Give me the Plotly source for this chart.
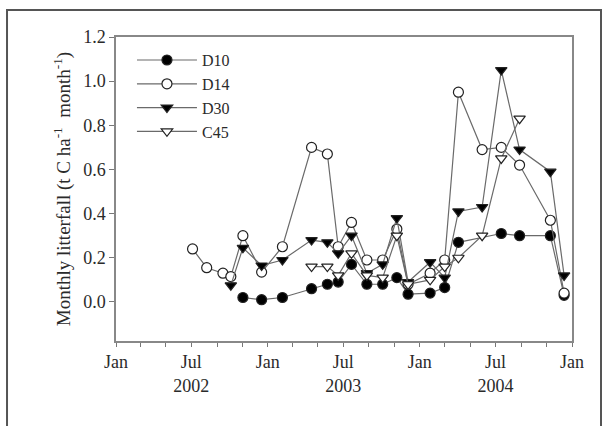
import plotly.graph_objects as go

# sampling dates
d10_dates = ["2002-11-02", "2002-12-17", "2003-02-05", "2003-04-16", "2003-05-24", "2003-06-19",
             "2003-07-21", "2003-08-27", "2003-10-04", "2003-11-07", "2003-12-04", "2004-01-26",
             "2004-03-01", "2004-04-03", "2004-07-15", "2004-08-28", "2004-11-10", "2004-12-13"]
d10_vals = [0.02, 0.01, 0.02, 0.06, 0.08, 0.09, 0.17, 0.08, 0.08, 0.11, 0.035, 0.04,
            0.065, 0.27, 0.31, 0.30, 0.30, 0.03]

d14_dates = ["2002-07-04", "2002-08-07", "2002-09-15", "2002-10-04", "2002-11-02", "2002-12-17",
             "2003-02-05", "2003-04-16", "2003-05-24", "2003-06-19", "2003-07-21", "2003-08-27",
             "2003-10-04", "2003-11-07", "2003-12-04", "2004-01-26", "2004-03-01", "2004-04-03",
             "2004-05-30", "2004-07-15", "2004-08-28", "2004-11-10", "2004-12-13"]
d14_vals = [0.24, 0.155, 0.13, 0.115, 0.30, 0.135, 0.25, 0.70, 0.67, 0.25, 0.36, 0.19,
            0.19, 0.33, 0.08, 0.13, 0.19, 0.95, 0.69, 0.70, 0.62, 0.37, 0.04]

d30_dates = ["2002-10-04", "2002-11-02", "2002-12-17", "2003-02-05", "2003-04-16", "2003-05-24",
             "2003-06-19", "2003-07-21", "2003-08-27", "2003-10-04", "2003-11-07", "2003-12-04",
             "2004-01-26", "2004-03-01", "2004-04-03", "2004-05-30", "2004-07-15", "2004-08-28",
             "2004-11-10", "2004-12-13"]
d30_vals = [0.075, 0.245, 0.165, 0.19, 0.28, 0.27, 0.22, 0.30, 0.13, 0.17, 0.38, 0.09,
            0.18, 0.11, 0.41, 0.43, 1.05, 0.69, 0.59, 0.12]

c45_dates = ["2003-04-16", "2003-05-24", "2003-06-19", "2003-07-21", "2003-08-27", "2003-10-04",
             "2003-11-07", "2003-12-04", "2004-01-26", "2004-03-01", "2004-04-03", "2004-05-30",
             "2004-07-15", "2004-08-28"]
c45_vals = [0.16, 0.16, 0.12, 0.22, 0.12, 0.11, 0.30, 0.08, 0.10, 0.16, 0.20, 0.30, 0.65, 0.83]

x_tickvals = ["2002-01-01", "2002-07-01", "2003-01-01", "2003-07-01",
              "2004-01-01", "2004-07-01", "2005-01-01"]
x_ticktext = ["Jan", "Jul<br>2002", "Jan", "Jul<br>2003", "Jan", "Jul<br>2004", "Jan"]
y_tickvals = [0.0, 0.2, 0.4, 0.6, 0.8, 1.0, 1.2]

LINE = "#6a6a6a"
FONT = "Liberation Serif"
TXT = "#2a2a2a"

fig = go.Figure()
series = [
    ("D10", d10_dates, d10_vals, "circle", False),
    ("D14", d14_dates, d14_vals, "circle", True),
    ("D30", d30_dates, d30_vals, "triangle-down", False),
    ("C45", c45_dates, c45_vals, "triangle-down", True),
]
for name, xs, ys, sym, open_ in series:
    fig.add_trace(go.Scatter(
        x=xs, y=ys, name=name, mode="lines+markers",
        line=dict(color=LINE, width=1.2),
        marker=dict(symbol=sym, size=10,
                    color="white" if open_ else "black",
                    line=dict(color="#222", width=1.2)),
    ))

fig.update_layout(
    width=607, height=426,
    margin=dict(l=116, r=35, t=37, b=85),
    paper_bgcolor="white", plot_bgcolor="white",
    font=dict(family=FONT, size=17, color=TXT),
    showlegend=True,
    legend=dict(x=0.035, y=0.98, xanchor="left", yanchor="top",
                bgcolor="rgba(0,0,0,0)", font=dict(size=16, family=FONT, color=TXT),
                itemwidth=60, tracegroupgap=0),
    xaxis=dict(range=["2002-01-01", "2005-01-01"], tickmode="array",
               tickvals=x_tickvals, ticktext=x_ticktext, ticks="outside", ticklen=4,
               tickcolor="#777", showgrid=False, zeroline=False, showline=True,
               linecolor="#888", linewidth=1.5, mirror=True,
               minor=dict(tick0="2002-01-01", dtick="M2", ticks="outside", ticklen=4,
                          tickcolor="#777", showgrid=False),
               tickfont=dict(size=18, family=FONT, color=TXT)),
    yaxis=dict(range=[-0.177, 1.2], tickmode="array", tickvals=y_tickvals,
               tickformat=".1f", ticks="outside", ticklen=5, tickcolor="#777",
               showgrid=False, zeroline=False, showline=True, linecolor="#888",
               linewidth=1.5, mirror=True,
               tickfont=dict(size=18, family=FONT, color=TXT),
               title=dict(text="Monthly litterfall (t C ha<sup>-1</sup>  month<sup>-1</sup>)",
                          font=dict(size=19, family=FONT, color=TXT), standoff=8)),
)

# outer frame around the figure
fig.add_shape(type="rect", xref="paper", yref="paper",
              x0=-0.239, x1=1.0636, y0=-0.3, y1=1.089,
              line=dict(color="#555", width=2), fillcolor="rgba(0,0,0,0)", layer="below")

fig.write_html("out.html")
